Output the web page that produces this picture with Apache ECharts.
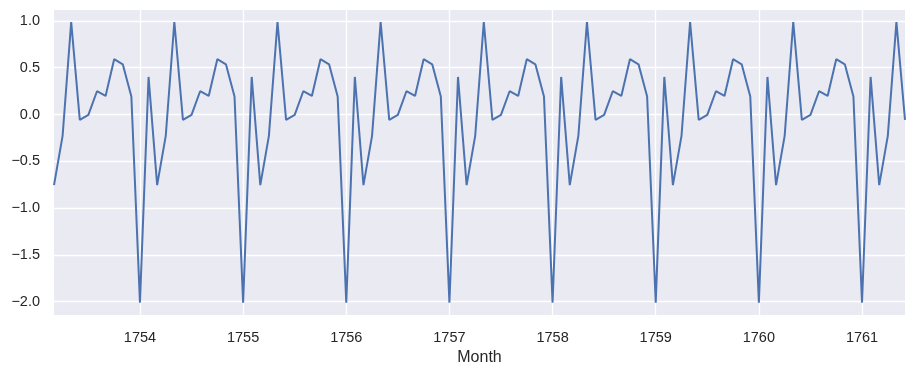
<!DOCTYPE html>
<html><head><meta charset="utf-8">
<script src="https://cdn.jsdelivr.net/npm/echarts@6/dist/echarts.min.js"></script>
<style>html,body{margin:0;padding:0;background:#fff}#c{width:915px;height:375px}</style>
</head><body><div id="c"></div>
<script>
// Monthly values, 1753-03 .. 1761-06
const startYear = 1753, startMonth = 3;
const values = [
  -0.755, -0.228, 0.989, -0.057, -0.003, 0.249, 0.199, 0.591, 0.537, 0.192,
  -2.010, 0.402, -0.755, -0.228, 0.989, -0.057, -0.003, 0.249, 0.199, 0.591, 0.537, 0.192,
  -2.010, 0.402, -0.755, -0.228, 0.989, -0.057, -0.003, 0.249, 0.199, 0.591, 0.537, 0.192,
  -2.010, 0.402, -0.755, -0.228, 0.989, -0.057, -0.003, 0.249, 0.199, 0.591, 0.537, 0.192,
  -2.010, 0.402, -0.755, -0.228, 0.989, -0.057, -0.003, 0.249, 0.199, 0.591, 0.537, 0.192,
  -2.010, 0.402, -0.755, -0.228, 0.989, -0.057, -0.003, 0.249, 0.199, 0.591, 0.537, 0.192,
  -2.010, 0.402, -0.755, -0.228, 0.989, -0.057, -0.003, 0.249, 0.199, 0.591, 0.537, 0.192,
  -2.010, 0.402, -0.755, -0.228, 0.989, -0.057, -0.003, 0.249, 0.199, 0.591, 0.537, 0.192,
  -2.010, 0.402, -0.755, -0.228, 0.989, -0.057
];
const xTickLabels = ['1754','1755','1756','1757','1758','1759','1760','1761'];
const yTickLabels = ['1.0','0.5','0.0','−0.5','−1.0','−1.5','−2.0'];

// month positions as fractional years
const months = values.map((_, i) => {
  const m = startMonth - 1 + i;
  return startYear + Math.floor(m / 12) + (m % 12) / 12;
});
const data = months.map((t, i) => [t, values[i]]);

const chart = echarts.init(document.getElementById('c'));
const font = 'Liberation Sans, Arial, DejaVu Sans, sans-serif';
chart.setOption({
  animation: false,
  backgroundColor: '#ffffff',
  grid: { left: 54, right: 10, top: 10, bottom: 60, show: true, backgroundColor: '#EAEAF2', borderWidth: 0 },
  xAxis: {
    type: 'value',
    min: months[0], max: months[months.length - 1],
    splitNumber: 8,
    name: 'Month', nameLocation: 'middle', nameGap: 35,
    nameTextStyle: { color: '#262626', fontSize: 16, fontFamily: font },
    axisLine: { show: false }, axisTick: { show: false },
    axisLabel: {
      color: '#262626', fontSize: 14.5, fontFamily: font, margin: 15,
      showMinLabel: false, showMaxLabel: false,
      formatter: v => { const s = String(Math.round(v)); return xTickLabels.includes(s) && Math.abs(v - Math.round(v)) < 1e-6 ? s : ''; }
    },
    splitLine: { show: true, showMinLine: false, showMaxLine: false, lineStyle: { color: '#ffffff', width: 1.3 } }
  },
  yAxis: {
    type: 'value',
    min: -2.142, max: 1.117,
    splitNumber: 6,
    axisLine: { show: false }, axisTick: { show: false },
    axisLabel: {
      color: '#262626', fontSize: 14.5, fontFamily: font, margin: 14,
      showMinLabel: false, showMaxLabel: false,
      formatter: v => { const s = v.toFixed(1).replace('-', '−'); return yTickLabels.includes(s) ? s : ''; }
    },
    splitLine: { show: true, showMinLine: false, showMaxLine: false, lineStyle: { color: '#ffffff', width: 1.3 } }
  },
  series: [{
    type: 'line', data: data, showSymbol: false, symbol: 'none',
    lineStyle: { color: '#4C72B0', width: 2 },
    clip: true
  }]
});
</script></body></html>
